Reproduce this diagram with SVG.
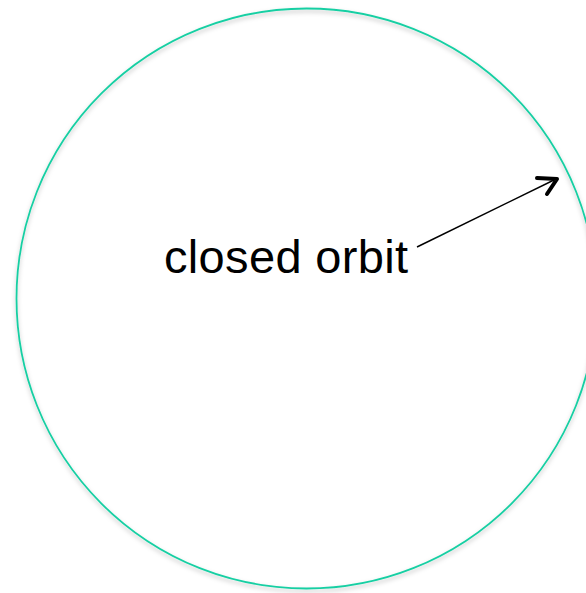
<svg xmlns="http://www.w3.org/2000/svg" width="586" height="593" viewBox="0 0 586 593">
<style>
.orbit{fill:none;stroke:#19cfa3;stroke-width:1.8}
.lbl{font-family:"Liberation Sans",Arial,sans-serif;font-size:47px;fill:#000}
.conn{fill:none;stroke:#000;stroke-width:1.5}
.head{fill:none;stroke:#000;stroke-width:4;stroke-linecap:round;stroke-linejoin:round}
</style>
<defs>
<filter id="sh" x="-10%" y="-10%" width="120%" height="120%">
<feDropShadow dx="0" dy="2.5" stdDeviation="2" flood-color="#000" flood-opacity="0.25"/>
</filter>
</defs>
<rect width="586" height="593" fill="#fff"/>
<g id="orbit">
<circle class="orbit" cx="306.5" cy="298.5" r="290" filter="url(#sh)"/>
</g>
<g id="label">
<text class="lbl" x="164" y="273" textLength="244" lengthAdjust="spacing">closed orbit</text>
</g>
<g id="connectors">
<line class="conn" x1="417" y1="247" x2="556" y2="179"/>
<polyline class="head" points="537,178 557,179 547,194"/>
</g>
</svg>
